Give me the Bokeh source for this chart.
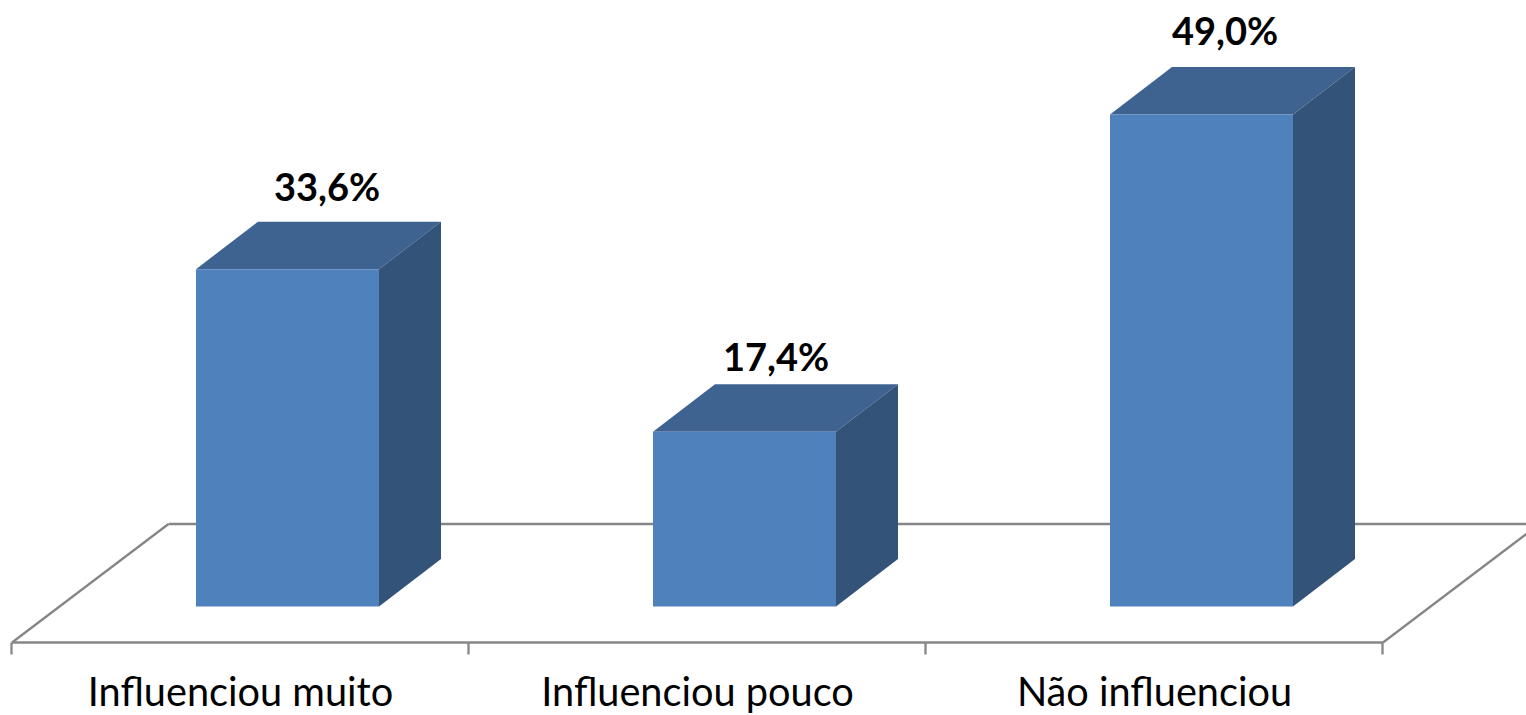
from bokeh.plotting import figure
from bokeh.models import ColumnDataSource
from bokeh.core.properties import value
from bokeh.embed import file_html
from bokeh.resources import INLINE

categories = ["Influenciou muito", "Influenciou pouco", "Não influenciou"]
values = [33.6, 17.4, 49.0]
value_labels = ["33,6%", "17,4%", "49,0%"]

FONT = "Lato"
FRONT, TOP, SIDE, AXIS = "#4F81BD", "#3F6391", "#335379", "#868686"

PX_PER_CAT = 457.0
PX_PER_UNIT = 10.04
ORIGIN_X, ORIGIN_Y = 11.5, 606.0   # page position of category 0 / value 0
W, H = 1526, 715
PAGE = 0

def dx(px):
    return px / PX_PER_CAT

def dy(px):
    return px / PX_PER_UNIT

x_start = (PAGE - ORIGIN_X) / PX_PER_CAT
y_end = (ORIGIN_Y - PAGE) / PX_PER_UNIT
p = figure(width=W, height=H, output_backend="svg", toolbar_location=None,
           x_range=(x_start, x_start + W / PX_PER_CAT),
           y_range=(y_end - H / PX_PER_UNIT, y_end),
           min_border=0, outline_line_color=None, background_fill_color="white")
p.axis.visible = False
p.grid.visible = False

# floor
front = dy(-36.0)
back = dy(82.5)
n = len(categories)
depth_x = dx(156.5)
p.line([dx(156.5), n + dx(144)], [back, back], line_color=AXIS, line_width=2.5)
p.line([0, n], [front, front], line_color=AXIS, line_width=2.5)
p.line([0, depth_x], [front, back], line_color=AXIS, line_width=2.3)
p.line([n, n + dx(156.5)], [front, back], line_color=AXIS, line_width=2.3)
for i in range(n + 1):
    p.line([i - dx(0.5), i - dx(0.5)], [front, front - dy(12)], line_color=AXIS, line_width=2.3)

# bars
half = dx(91.5)
bx = dx(62)
by = dy(47.5)
for i, v in enumerate(values):
    c = i + 0.5 + dx(47)
    l, r = c - half, c + half
    p.patch([l, l + bx, r + bx, r], [v, v + by, v + by, v], fill_color=TOP, line_color=None)
    p.patch([r, r + bx, r + bx, r], [0, by, v + by, v], fill_color=SIDE, line_color=None)
    p.quad(left=l, right=r, bottom=0, top=v, fill_color=FRONT, line_color=None)

src = ColumnDataSource(dict(
    x=[i + 0.5 for i in range(n)],
    y=[v + by for v in values],
    t=value_labels,
    xo=[86.5, 78.5, 70.5],
    yo=[-36, -28, -37],
))
p.text(x="x", y="y", text="t", source=src, x_offset="xo", y_offset="yo",
       text_font=value(FONT), text_font_style="bold", text_font_size="38px",
       text_align="center", text_baseline="alphabetic", text_color="black")

cat_src = ColumnDataSource(dict(x=[i + 0.5 for i in range(n)], y=[front] * n, t=categories))
p.text(x="x", y="y", text="t", source=cat_src, x_offset=0, y_offset=48,
       text_font=value(FONT), text_font_size="39.7px",
       text_align="center", text_baseline="alphabetic", text_color="black")

open("out.html", "w").write(file_html(p, INLINE))
